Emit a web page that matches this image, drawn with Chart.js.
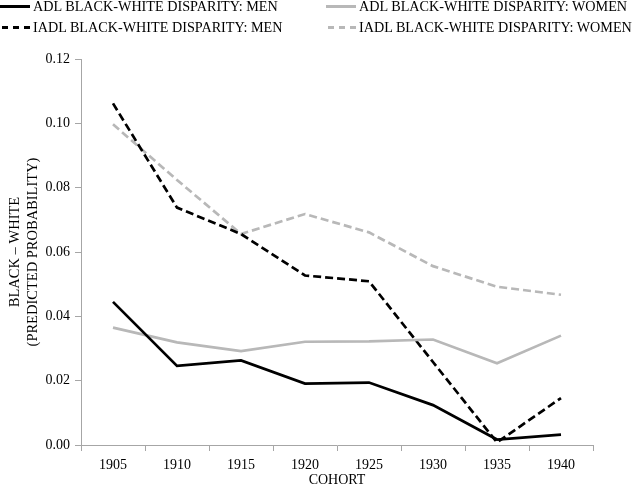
<!DOCTYPE html>
<html lang="en">
  <head>
    <meta charset="UTF-8" />
    <title>Black-White Disparity by Cohort</title>
    <script src="https://cdn.jsdelivr.net/npm/chart.js"></script>
    <style>
      body {
        margin: 0;
        background: #fff;
        font-family: "Liberation Serif", "Times New Roman", serif;
      }
      .wrap {
        position: relative;
        width: 640px;
        height: 487px;
      }
      .legend {
        position: absolute;
        left: 0;
        top: 0;
        width: 640px;
        font-size: 14.2px;
        color: #000;
      }
      .legend .item {
        position: absolute;
        display: flex;
        align-items: center;
        white-space: nowrap;
        height: 14px;
      }
      .legend .sample {
        width: 30px;
        height: 3px;
        margin-right: 3px;
      }
    </style>
  </head>
  <body>
    <div class="wrap">
      <canvas id="chart" width="640" height="487"></canvas>
      <div class="legend" id="legend"></div>
    </div>
    <script>
      const cohorts = ["1905", "1910", "1915", "1920", "1925", "1930", "1935", "1940"];

      // valores
      const adlMen = [0.0445, 0.0246, 0.0263, 0.0191, 0.0194, 0.0124, 0.0017, 0.0032];
      const adlWomen = [0.0365, 0.0319, 0.0292, 0.0321, 0.0322, 0.0328, 0.0254, 0.034];
      const iadlMen = [0.1062, 0.0738, 0.0656, 0.0527, 0.0509, 0.0258, 0.0008, 0.0146];
      const iadlWomen = [0.0997, 0.0824, 0.0656, 0.0718, 0.0661, 0.0556, 0.0492, 0.0467];

      const yTicks = [0, 0.02, 0.04, 0.06, 0.08, 0.1, 0.12];

      const black = "#000000";
      const gray = "#b8b8b8";
      const axisGray = "#a6a6a6";

      const series = [
        { label: "ADL BLACK-WHITE DISPARITY: MEN", data: adlMen, color: black, dash: [] },
        { label: "ADL BLACK-WHITE DISPARITY: WOMEN", data: adlWomen, color: gray, dash: [] },
        { label: "IADL BLACK-WHITE DISPARITY: MEN", data: iadlMen, color: black, dash: [8, 4] },
        { label: "IADL BLACK-WHITE DISPARITY: WOMEN", data: iadlWomen, color: gray, dash: [8, 4] },
      ];

      // legenda em duas colunas, como no original
      const legendPos = [
        { left: 0, top: -1 },
        { left: 326, top: -1 },
        { left: 0, top: 20 },
        { left: 326, top: 20 },
      ];
      const legend = document.getElementById("legend");
      series.forEach((s, i) => {
        const item = document.createElement("div");
        item.className = "item";
        item.style.left = legendPos[i].left + "px";
        item.style.top = legendPos[i].top + "px";
        const sample = document.createElement("span");
        sample.className = "sample";
        if (s.dash.length) {
          sample.style.background =
            "repeating-linear-gradient(to right, transparent 0 2px, " + s.color + " 2px 8px, transparent 8px 11px)";
        } else {
          sample.style.background = s.color;
        }
        const text = document.createElement("span");
        text.textContent = s.label;
        item.appendChild(sample);
        item.appendChild(text);
        legend.appendChild(item);
      });

      const serif = "'Liberation Serif', 'Times New Roman', serif";

      new Chart(document.getElementById("chart"), {
        type: "line",
        data: {
          labels: cohorts,
          datasets: series.map((s) => ({
            label: s.label,
            data: s.data,
            borderColor: s.color,
            backgroundColor: s.color,
            borderWidth: 2.7,
            borderDash: s.dash,
            pointRadius: 0,
            tension: 0,
            fill: false,
          })),
        },
        options: {
          responsive: false,
          animation: false,
          layout: { padding: { left: 0, top: 59, right: 47, bottom: 0 } },
          plugins: {
            legend: { display: false },
            tooltip: { enabled: false },
          },
          scales: {
            x: {
              offset: true,
              grid: {
                offset: true,
                drawOnChartArea: false,
                drawTicks: true,
                tickLength: 6,
                color: axisGray,
              },
              border: { color: axisGray, width: 1 },
              ticks: {
                color: "#000",
                padding: 6,
                font: { family: serif, size: 14 },
              },
              title: {
                display: true,
                text: "COHORT",
                color: "#000",
                padding: { top: 0, bottom: 0 },
                font: { family: serif, size: 14, lineHeight: 1 },
              },
              afterFit: (scale) => {
                scale.height = 42;
              },
            },
            y: {
              min: 0,
              max: 0.12,
              afterBuildTicks: (scale) => {
                scale.ticks = yTicks.map((v) => ({ value: v }));
              },
              grid: {
                drawOnChartArea: false,
                drawTicks: true,
                tickLength: 6,
                color: axisGray,
              },
              border: { color: axisGray, width: 1 },
              ticks: {
                color: "#000",
                padding: 5,
                font: { family: serif, size: 14 },
                callback: (v) => v.toFixed(2),
              },
              title: {
                display: true,
                text: ["BLACK \u2013 WHITE", "(PREDICTED PROBABILITY)"],
                color: "#000",
                padding: { top: 6, bottom: 4 },
                font: { family: serif, size: 14.5, lineHeight: 1.25 },
              },
              afterFit: (scale) => {
                scale.width = 81;
              },
            },
          },
        },
      });
    </script>
  </body>
</html>
